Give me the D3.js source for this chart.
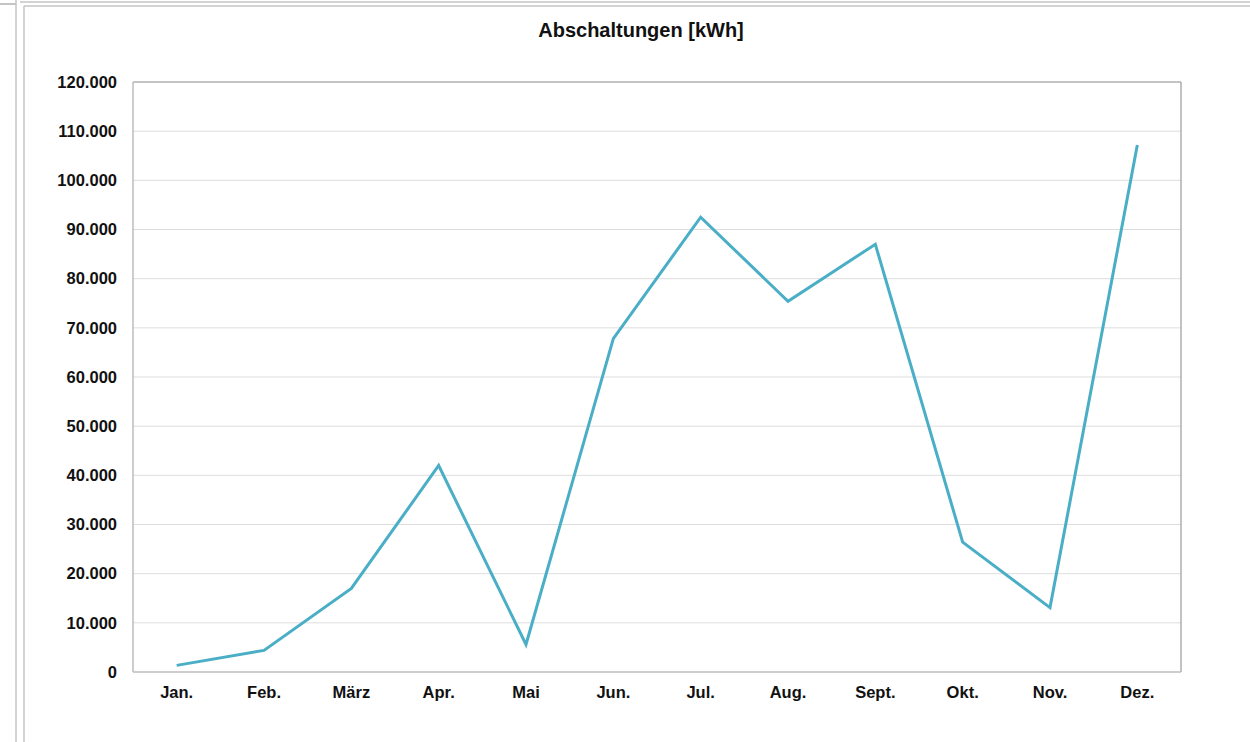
<!DOCTYPE html>
<html>
<head>
<meta charset="utf-8">
<script src="https://cdn.jsdelivr.net/npm/d3@7"></script>
<style>
  body { margin: 0; background: #fff; }
  svg { display: block; font-family: "Liberation Sans", Arial, sans-serif; }
</style>
</head>
<body>
<svg id="chart" width="1250" height="742"></svg>
<script>
const months = ["Jan.", "Feb.", "März", "Apr.", "Mai", "Jun.", "Jul.", "Aug.", "Sept.", "Okt.", "Nov.", "Dez."];
const values = [1350, 4400, 17000, 42000, 5600, 67800, 92500, 75400, 87000, 26400, 13100, 107200];
const yTicks = [0, 10000, 20000, 30000, 40000, 50000, 60000, 70000, 80000, 90000, 100000, 110000, 120000];

const svg = d3.select("#chart");

// window frame lines around the chart
svg.append("line").attr("x1", 0).attr("x2", 16).attr("y1", 4).attr("y2", 4).attr("stroke", "#c4c4c4").attr("stroke-width", 2);
svg.append("line").attr("x1", 20).attr("x2", 1250).attr("y1", 2).attr("y2", 2).attr("stroke", "#c4c4c4").attr("stroke-width", 1.5);
svg.append("line").attr("x1", 24).attr("x2", 1250).attr("y1", 6).attr("y2", 6).attr("stroke", "#c4c4c4").attr("stroke-width", 1.5);
svg.append("line").attr("x1", 16).attr("x2", 16).attr("y1", 0).attr("y2", 742).attr("stroke", "#c4c4c4").attr("stroke-width", 1.5);
svg.append("line").attr("x1", 24).attr("x2", 24).attr("y1", 6).attr("y2", 742).attr("stroke", "#c4c4c4").attr("stroke-width", 1.5);

const plotLeft = 133, plotRight = 1181, plotTop = 82, plotBottom = 672;

const x = d3.scaleBand().domain(months).range([plotLeft, plotRight]);
const y = d3.scaleLinear().domain([0, 120000]).range([plotBottom, plotTop]);

// gridlines
svg.append("g")
  .selectAll("line")
  .data(yTicks.slice(1, -1))
  .join("line")
  .attr("x1", plotLeft).attr("x2", plotRight)
  .attr("y1", d => y(d)).attr("y2", d => y(d))
  .attr("stroke", "#dedede")
  .attr("stroke-width", 1);

// plot frame
svg.append("line").attr("x1", plotLeft).attr("x2", plotRight).attr("y1", plotTop).attr("y2", plotTop).attr("stroke", "#8a8a8a");
svg.append("line").attr("x1", plotRight).attr("x2", plotRight).attr("y1", plotTop).attr("y2", plotBottom).attr("stroke", "#9a9a9a").attr("stroke-width", 1.2);
svg.append("line").attr("x1", plotLeft).attr("x2", plotLeft).attr("y1", plotTop).attr("y2", plotBottom).attr("stroke", "#bdbdbd").attr("stroke-width", 1.5);
svg.append("line").attr("x1", plotLeft).attr("x2", plotRight).attr("y1", plotBottom).attr("y2", plotBottom).attr("stroke", "#bdbdbd").attr("stroke-width", 1.5);

// y axis labels
const fmt = d3.formatLocale({ decimal: ",", thousands: ".", grouping: [3], currency: ["", "€"] }).format(",");
const yAxis = d3.axisLeft(y).tickValues(yTicks).tickSize(0).tickPadding(16).tickFormat(fmt);
svg.append("g")
  .attr("transform", `translate(${plotLeft},0)`)
  .call(yAxis)
  .call(g => g.select(".domain").remove())
  .selectAll("text")
  .attr("font-size", 16.5)
  .attr("font-weight", "bold")
  .attr("fill", "#111")
  .attr("font-family", "Liberation Sans, Arial, sans-serif");

// x axis labels
const xAxis = d3.axisBottom(x).tickSize(0).tickPadding(14);
svg.append("g")
  .attr("transform", `translate(0,${plotBottom})`)
  .call(xAxis)
  .call(g => g.select(".domain").remove())
  .selectAll("text")
  .attr("font-size", 16.5)
  .attr("font-weight", "bold")
  .attr("fill", "#111")
  .attr("font-family", "Liberation Sans, Arial, sans-serif");

// line
const line = d3.line()
  .x((d, i) => x(months[i]) + x.bandwidth() / 2)
  .y(d => y(d));

svg.append("path")
  .datum(values)
  .attr("d", line)
  .attr("fill", "none")
  .attr("stroke", "#4aaec6")
  .attr("stroke-width", 3)
  .attr("stroke-linejoin", "miter");

// title
svg.append("text")
  .attr("x", 641)
  .attr("y", 37)
  .attr("text-anchor", "middle")
  .attr("font-size", 20)
  .attr("font-weight", "bold")
  .attr("fill", "#111")
  .text("Abschaltungen [kWh]");
</script>
</body>
</html>
